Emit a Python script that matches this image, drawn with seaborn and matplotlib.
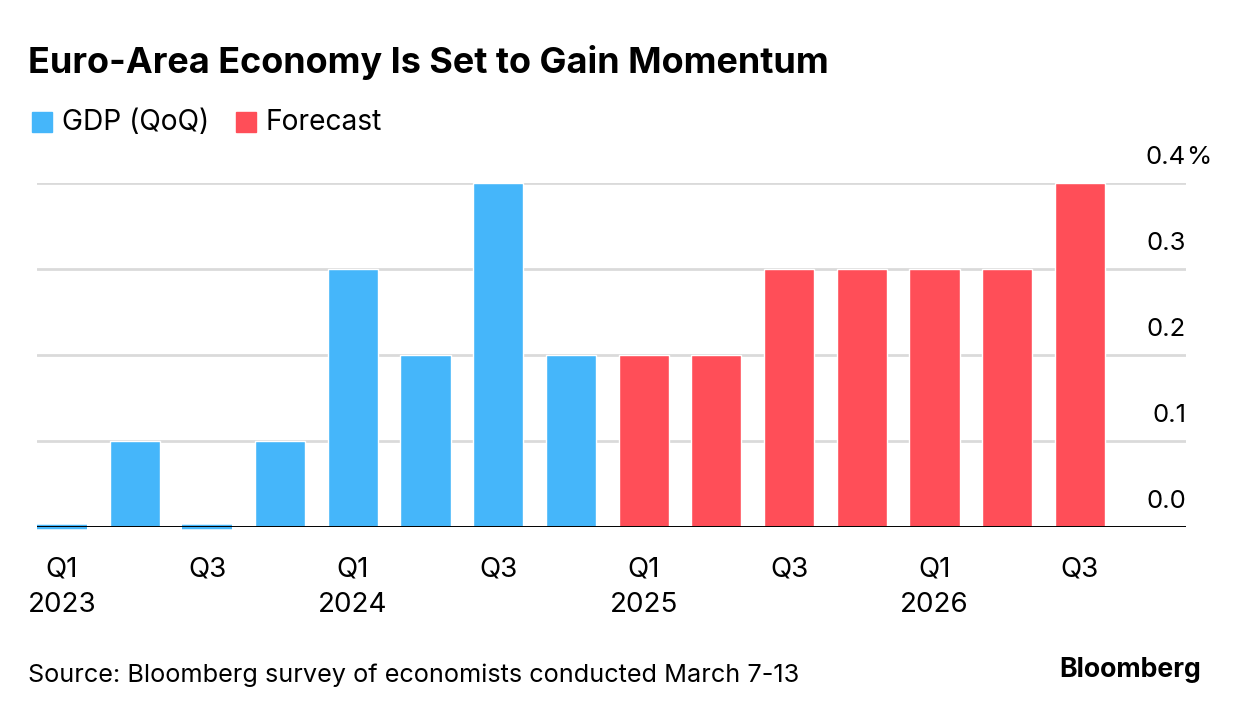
import pandas as pd
import numpy as np
import matplotlib.pyplot as plt
import seaborn as sns
from matplotlib.patches import Rectangle

# data
quarters = ["Q1 2023", "Q2 2023", "Q3 2023", "Q4 2023",
            "Q1 2024", "Q2 2024", "Q3 2024", "Q4 2024",
            "Q1 2025", "Q2 2025", "Q3 2025", "Q4 2025",
            "Q1 2026", "Q2 2026", "Q3 2026"]
values = [0.0, 0.1, 0.0, 0.1, 0.3, 0.2, 0.4, 0.2,
          0.2, 0.2, 0.3, 0.3, 0.3, 0.3, 0.4]
kinds = ["GDP (QoQ)"] * 8 + ["Forecast"] * 7
tick_labels = ["Q1\n2023", "Q3", "Q1\n2024", "Q3", "Q1\n2025", "Q3", "Q1\n2026", "Q3"]
y_ticks = [0.0, 0.1, 0.2, 0.3, 0.4]

BLUE = "#45B6FA"
RED = "#FF4E58"
GRID = "#DADADA"
FONT = ["Inter", "DejaVu Sans"]

sns.set_style("white")
plt.rcParams["font.family"] = FONT
plt.rcParams["text.color"] = "black"
plt.rcParams["xtick.color"] = "black"
plt.rcParams["xtick.labelcolor"] = "black"

df = pd.DataFrame({"quarter": quarters, "value": values, "kind": kinds})

W, H = 1240, 716
fig = plt.figure(figsize=(W / 100, H / 100), dpi=100)
ax = fig.add_axes([37 / W, (H - 527) / H, (1186 - 37) / W, (527 - 183) / H])

sns.barplot(data=df, x="quarter", y="value", hue="kind",
            palette={"GDP (QoQ)": BLUE, "Forecast": RED},
            dodge=False, width=0.69, legend=False, ax=ax,
            saturation=1, zorder=3)

# zero-height bars show as a thin strip on the baseline
for p in ax.patches:
    if abs(p.get_height()) < 1e-9:
        p.set_edgecolor(p.get_facecolor())
        p.set_linewidth(3.2)
        p.set_clip_on(False)

ax.set_ylim(0, 0.4)
ax.set_xlim(-0.344, 15.46)
for y in y_ticks[1:]:
    ax.axhline(y, color=GRID, lw=2, zorder=1)
ax.axhline(0, color="black", lw=1.4, zorder=4)

for s in ax.spines.values():
    s.set_visible(False)
ax.set_xlabel("")
ax.set_ylabel("")
ax.set_yticks([])
ax.set_xticks(range(0, len(quarters), 2))
ax.set_xticklabels(tick_labels, fontsize=20, linespacing=1.5)
ax.tick_params(axis="x", length=8, width=1.3, color="black", pad=13, direction="out")

# y labels sit above the gridlines at the right, "%" hangs past the edge
trans = ax.get_yaxis_transform()
for y in y_ticks:
    ax.text(1.0, y + 0.03, f"{y:.1f}", transform=trans, ha="right", va="center",
            fontsize=18.5, clip_on=False)
ax.text(1.0, 0.4 + 0.03, "%", transform=trans, ha="left", va="center",
        fontsize=18.5, clip_on=False)

# title, legend, footer
fig.text(28 / W, 1 - 63 / H, "Euro-Area Economy Is Set to Gain Momentum",
         fontsize=25.9, fontweight="bold", va="center", ha="left")
for x0, col, lab in [(32, BLUE, "GDP (QoQ)"), (236, RED, "Forecast")]:
    fig.patches.append(Rectangle((x0 / W, 1 - 132 / H), 20 / W, 20 / H,
                                 transform=fig.transFigure, color=col))
    fig.text((x0 + 30) / W, 1 - 122 / H, lab, fontsize=20.3, va="center", ha="left")
fig.text(28 / W, 1 - 675 / H, "Source: Bloomberg survey of economists conducted March 7-13",
         fontsize=18.2, va="center", ha="left")
fig.text(1201 / W, 1 - 670 / H, "Bloomberg", fontsize=19.2, fontweight="bold",
         va="center", ha="right")

fig.savefig("out.png", dpi=100)
